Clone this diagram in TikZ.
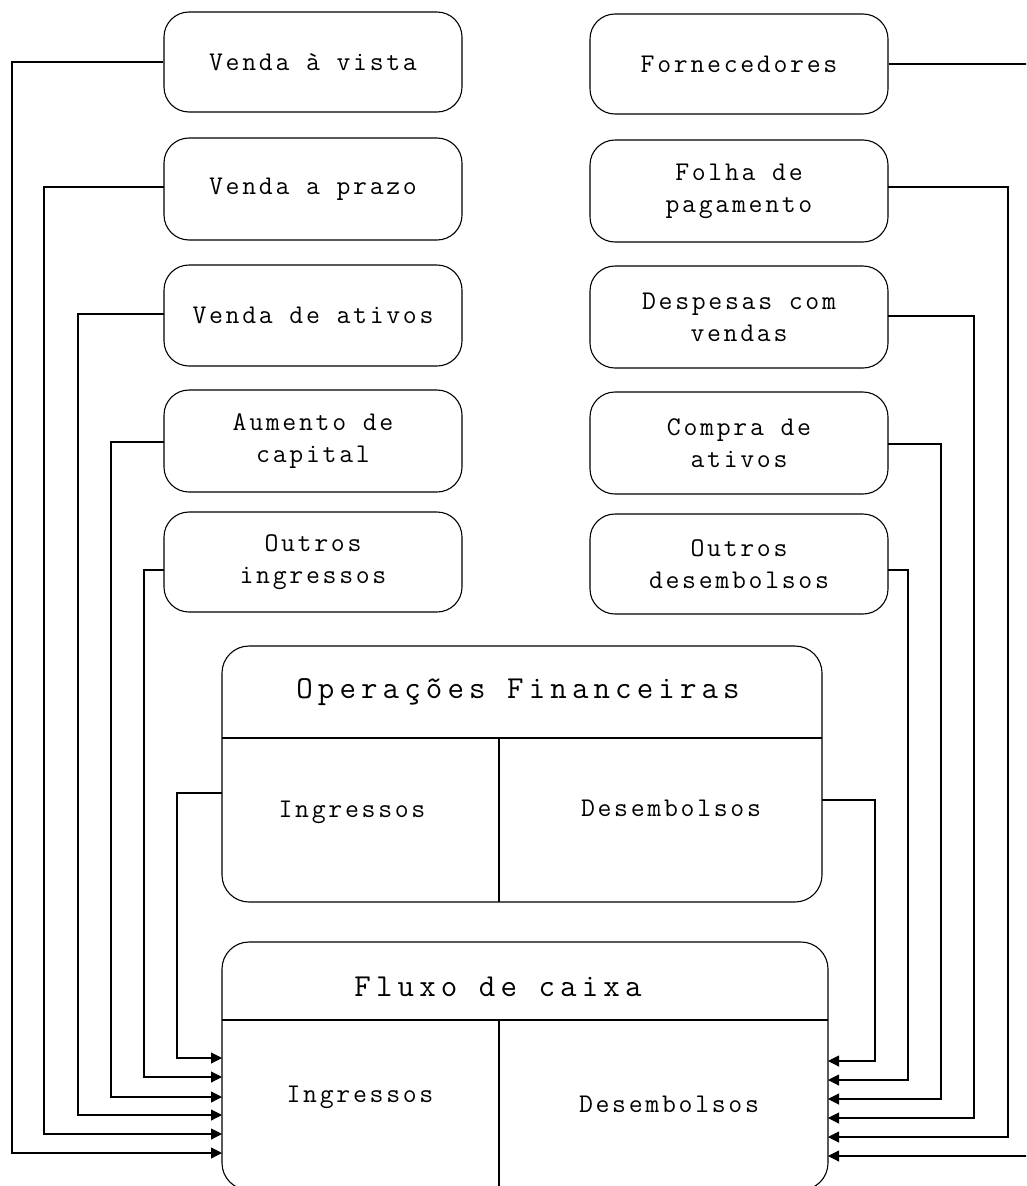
\documentclass[tikz,border=0pt]{standalone}
\usepackage{fontspec}
\usetikzlibrary{arrows.meta}
\newfontfamily\smallmono[LetterSpace=10]{Latin Modern Mono}
\newfontfamily\bigmono[LetterSpace=16]{Latin Modern Mono}
\begin{document}
\begin{tikzpicture}[x=1pt,y=-1pt,
  box/.style={draw, line width=1.1pt, rounded corners=25pt, minimum width=298pt, inner sep=0pt,
    align=center, font=\smallmono\fontsize{27}{32}\selectfont},
  bigbox/.style={draw, line width=1.1pt, rounded corners=27pt, inner sep=0pt},
  lab/.style={font=\smallmono\fontsize{27}{32}\selectfont},
  title/.style={font=\bigmono\fontsize{32}{36}\selectfont},
  conn/.style={line width=1.1pt},
  arr/.style={line width=1.1pt, -{Triangle[length=11pt,width=11pt]}}]
\clip (0,0) rectangle (1026,1186);
% left boxes
\node[box, minimum height=100pt] (L1) at (313,62) {Venda à vista};
\node[box, minimum height=102pt] (L2) at (313,189) {Venda a prazo};
\node[box, minimum height=101pt] (L3) at (313,315.5) {Venda de ativos};
\node[box, minimum height=102pt] (L4) at (313,441) {Aumento de\\capital};
\node[box, minimum height=100pt] (L5) at (313,562) {Outros\\ingressos};
% right boxes
\node[box, minimum height=100pt] (R1) at (739,64) {Fornecedores};
\node[box, minimum height=102pt] (R2) at (739,191) {Folha de\\pagamento};
\node[box, minimum height=102pt] (R3) at (739,317) {Despesas com\\vendas};
\node[box, minimum height=102pt] (R4) at (739,443) {Compra de\\ativos};
\node[box, minimum height=100pt] (R5) at (739,564) {Outros\\desembolsos};
% Operacoes Financeiras
\node[bigbox, minimum width=600pt, minimum height=256pt] (OF) at (522,774) {};
\draw[conn] (222,738) -- (822,738);
\draw[conn] (499,738) -- (499,902);
\node[title] (OFt) at (518,692) {Operações Financeiras};
\node[lab] (OFi) at (352,812) {Ingressos};
\node[lab] (OFd) at (671,808) {Desembolsos};
% Fluxo de caixa
\node[bigbox, minimum width=606pt, minimum height=248pt] (FC) at (525,1066) {};
\draw[conn] (222,1020) -- (828,1020);
\draw[conn] (499,1020) -- (499,1190);
\node[title] (FCt) at (498,987) {Fluxo de caixa};
\node[lab] (FCi) at (360,1097) {Ingressos};
\node[lab] (FCd) at (669,1104) {Desembolsos};
% arrow targets on Fluxo de caixa
\coordinate (a1) at (222,1153);
\coordinate (a2) at (222,1134);
\coordinate (a3) at (222,1115);
\coordinate (a4) at (222,1097);
\coordinate (a5) at (222,1077);
\coordinate (a6) at (222,1058);
\coordinate (b1) at (828,1156);
\coordinate (b2) at (828,1137);
\coordinate (b3) at (828,1118);
\coordinate (b4) at (828,1099);
\coordinate (b5) at (828,1080);
\coordinate (b6) at (828,1061);
% left connectors
\draw[arr] (L1.west) -| (12,1153) -- (a1);
\draw[arr] (164,187) -| (44,1134) -- (a2);
\draw[arr] (164,314) -| (78,1115) -- (a3);
\draw[arr] (164,442) -| (111,1097) -- (a4);
\draw[arr] (164,570) -| (144,1077) -- (a5);
\draw[arr] (222,793) -| (177,1058) -- (a6);
% right connectors
\draw[arr] (R1.east) -| (1030,1156) -- (b1);
\draw[arr] (888,187) -| (1008,1137) -- (b2);
\draw[arr] (888,316) -| (974,1118) -- (b3);
\draw[arr] (888,444) -| (941,1099) -- (b4);
\draw[arr] (888,570) -| (908,1080) -- (b5);
\draw[arr] (822,800) -| (875,1061) -- (b6);
\end{tikzpicture}
\end{document}
